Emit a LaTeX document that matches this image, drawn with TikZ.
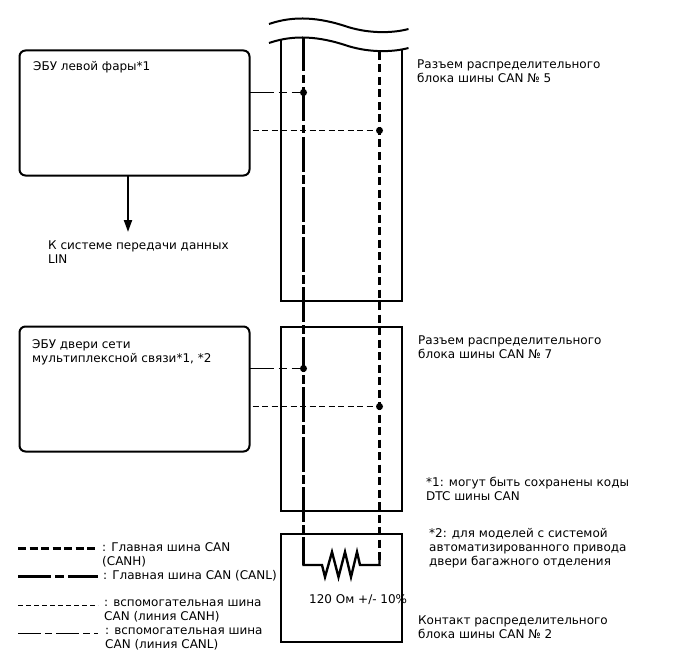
\documentclass[tikz,border=0pt]{standalone}
\usepackage{fontspec}
\setmainfont{DejaVu Sans}
\usetikzlibrary{arrows.meta, positioning, calc}

\begin{document}
\begin{tikzpicture}[
  x=1pt, y=-1pt,
  ecu/.style={draw, line width=2pt, rounded corners=6pt, anchor=north west, inner sep=0pt, outer sep=0pt,
              minimum width=230pt, minimum height=125pt},
  junc/.style={draw, rectangle, line width=2pt, anchor=north west, inner sep=0pt, outer sep=0pt, minimum width=121.5pt},
  lab/.style={anchor=north west, inner sep=0pt, align=left, font=\fontsize{12}{14}\selectfont},
  dot/.style={circle, fill=black, inner sep=0pt, minimum size=7pt},
  mainh/.style={line width=2.6pt, dash pattern=on 8pt off 4.5pt},
  mainl/.style={line width=2.4pt, dash pattern=on 34.5pt off 3.5pt on 8.5pt off 3.5pt},
  subh/.style={line width=1.1pt, dash pattern=on 6pt off 3.5pt},
  subl/.style={line width=1.1pt, dash pattern=on 24pt off 5pt on 8pt off 5pt},
  wave/.style={line width=2pt}
]
\useasboundingbox (0,0) rectangle (688,658);

% --- ECU boxes on the left ---
\node[ecu] (lamp) at (19.5,50.5) {};
\node[ecu] (door) at (19.5,326.5) {};
\node[lab] (lamptxt) at (33,61) {ЭБУ левой фары*1};
\node[lab] (doortxt) at (32,339) {ЭБУ двери сети\\мультиплексной связи*1, *2};

% --- connector blocks ---
\coordinate (topL) at (280.5,40);
\coordinate (topR) at (402,50);
\draw[line width=2pt] (topL) |- (402,301) -- (topR);
\node[junc, minimum height=184pt] (blockb) at (280.5,327) {};
\node[junc, minimum height=108pt] (blockc) at (280.5,534) {};

% --- break lines over the top of the block ---
\draw[wave] (269,24) .. controls (295,15) and (320,18) .. (345,26) .. controls (365,33) and (390,34) .. (408.5,29);
\draw[wave] (269,43) .. controls (295,34) and (320,37) .. (345,45) .. controls (365,52) and (390,53) .. (408.5,48);

% --- bus lines and terminating resistor ---
\coordinate (canltop) at (303.5,37);
\coordinate (canhtop) at (379.5,52);
\coordinate (canlend) at (303.5,565);
\coordinate (canhend) at (379.5,565);
\coordinate (resin)   at (322,565);
\coordinate (resout)  at (360,565);
\draw[mainl] (canltop) -- (canlend);
\draw[mainh] (canhtop) -- (canhend);
\draw[line width=2.4pt, line join=miter] (303.5,553) |- (resin) -- (325,577) -- (332,552) -- (338.5,577)
  -- (345,552) -- (351,577) -- (357,552) -- (resout) -- (canhend) -- (379.5,555);

% --- branch lines with their junction dots ---
\node[dot] (dotla) at (303.5,92.5) {};
\node[dot] (dotha) at (379.5,130.5) {};
\node[dot] (dotlb) at (303.5,368.5) {};
\node[dot] (dothb) at (379.5,406.5) {};
\draw[subl] (lamp.east |- dotla) -- (dotla);
\draw[subh] ($(lamp.east |- dotha)+(3,0)$) -- (dotha);
\draw[subl] (door.east |- dotlb) -- (dotlb);
\draw[subh] ($(door.east |- dothb)+(3,0)$) -- (dothb);

% --- LIN output ---
\coordinate (linend) at (128,232);
\draw[line width=2pt, -{Triangle[length=12pt,width=8pt]}] (lamp.south -| linend) -- (linend);
\node[lab] (lintxt) at (48,241) {К системе передачи данных\\LIN};

% --- block captions and notes ---
\node[lab] (capa) at (417,60) {Разъем распределительного\\блока шины CAN № 5};
\node[lab] (capb) at (418,336) {Разъем распределительного\\блока шины CAN № 7};
\node[lab] (capc) at (418,616) {Контакт распределительного\\блока шины CAN № 2};
\node[lab] (notea) at (426,477) {*1: могут быть сохранены коды\\DTC шины CAN};
\node[lab] (noteb) at (429,528) {*2: для моделей с системой\\автоматизированного привода\\двери багажного отделения};
\node[lab] (restxt) at (309,594) {120 Ом +/- 10\%};

% --- legend ---
\coordinate (kaa) at (18,548.5);  \coordinate (kab) at (98,548.5);
\coordinate (kba) at (18,576.5);  \coordinate (kbb) at (98,576.5);
\coordinate (kca) at (18,605);    \coordinate (kcb) at (98,605);
\coordinate (kda) at (18,633);    \coordinate (kdb) at (98,633);
\draw[mainh, dash pattern=on 8pt off 3.5pt] (kaa) -- (kab);
\draw[mainl, dash pattern=on 33pt off 4pt on 9pt off 4pt] (kba) -- (kbb);
\draw[subh, line width=0.8pt, dash pattern=on 5pt off 3pt] (kca) -- (kcb);
\draw[subl, line width=0.8pt, dash pattern=on 23pt off 4pt on 7pt off 4pt] (kda) -- (kdb);
\node[lab] (kta) at (102,542) {: Главная шина CAN\\(CANH)};
\node[lab] (ktb) at (103,570) {: Главная шина CAN (CANL)};
\node[lab] (ktc) at (104,600) {: вспомогательная шина\\CAN (линия CANH)};
\node[lab] (ktd) at (105,628) {: вспомогательная шина\\CAN (линия CANL)};

\end{tikzpicture}
\end{document}
